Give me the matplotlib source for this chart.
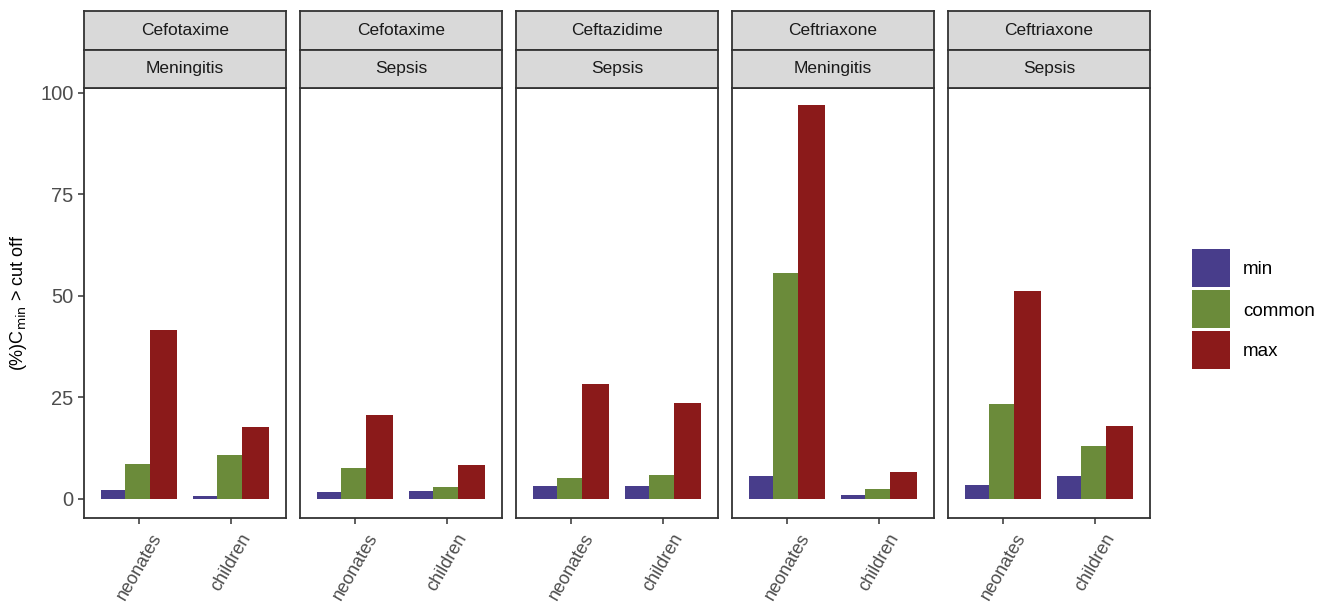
import numpy as np
import matplotlib.pyplot as plt
from matplotlib.patches import Rectangle

plt.rcParams['font.family'] = ['Liberation Sans', 'DejaVu Sans']

drugs = ["Cefotaxime", "Cefotaxime", "Ceftazidime", "Ceftriaxone", "Ceftriaxone"]
diseases = ["Meningitis", "Sepsis", "Sepsis", "Meningitis", "Sepsis"]
groups = ["neonates", "children"]
dose_levels = ["min", "common", "max"]
colors = ["#483D8B", "#6B8B3A", "#8B1A1A"]

# (%) per panel, per group: [min, common, max]
pct_neonates = [
    [2.2, 8.6, 41.7],
    [1.7, 7.6, 20.7],
    [3.2, 5.2, 28.4],
    [5.7, 55.7, 97.0],
    [3.5, 23.4, 51.3],
]
pct_children = [
    [0.6, 10.8, 17.7],
    [2.0, 3.0, 8.3],
    [3.2, 6.0, 23.7],
    [1.0, 2.5, 6.6],
    [5.7, 13.1, 18.0],
]

W, H = 1326, 605
fig = plt.figure(figsize=(W / 100, H / 100), dpi=100)


def px_axes(x0, y0, x1, y1):
    return fig.add_axes([x0 / W, (H - y1) / H, (x1 - x0) / W, (y1 - y0) / H])


# ggplot-like dodge: bars 0.3 wide, centres 0.8/3 apart
bar_w = 0.3
dodge = 0.8 / 3
x = np.arange(len(groups)) + 1
for i in range(len(drugs)):
    left = 84 + i * 216
    right = left + 202
    ax = px_axes(left, 88, right, 518)
    vals = np.array([pct_neonates[i], pct_children[i]])
    for k, lev in enumerate(dose_levels):
        ax.bar(x + (k - 1) * dodge, vals[:, k], width=bar_w, color=colors[k],
               label=lev, linewidth=0, zorder=2 + k)
    ax.set_xlim(0.4, 2.6)
    ax.set_ylim(-4.7, 101.2)
    ax.set_xticks(x)
    ax.set_xticklabels(groups, rotation=60, ha='center', va='top',
                       fontsize=13, color='#4d4d4d')
    ax.set_yticks([0, 25, 50, 75, 100])
    if i == 0:
        ax.set_yticklabels(["0", "25", "50", "75", "100"], fontsize=14.5, color='#4d4d4d')
        ax.set_ylabel(r"(%)C$_{\mathrm{min}}$ > cut off", fontsize=13, labelpad=8)
    else:
        ax.tick_params(axis='y', left=False, labelleft=False)
    ax.tick_params(length=4, width=1.1, color='#333333')
    ax.tick_params(axis='x', pad=5)
    for s in ax.spines.values():
        s.set_linewidth(1.3)
        s.set_color('#333333')
        s.set_zorder(10)

    # facet strips
    for (y0, y1, txt) in [(11, 50, drugs[i]), (50, 88, diseases[i])]:
        sax = px_axes(left, y0, right, y1)
        sax.set_facecolor('#d9d9d9')
        sax.set_xticks([])
        sax.set_yticks([])
        for s in sax.spines.values():
            s.set_linewidth(1.3)
            s.set_color('#333333')
        sax.text(0.5, 0.5, txt, ha='center', va='center', fontsize=12.5,
                 color='#1a1a1a', transform=sax.transAxes)

# legend
lax = px_axes(1185, 245, 1326, 375)
lax.set_axis_off()
lax.set_xlim(0, 141)
lax.set_ylim(130, 0)
for k, lev in enumerate(dose_levels):
    lax.add_patch(Rectangle((7, 4 + k * 41), 38, 38, color=colors[k], lw=0))
    lax.text(58, 25 + k * 41, lev, va='center', ha='left', fontsize=13.5)

fig.savefig("out.png", dpi=100)
